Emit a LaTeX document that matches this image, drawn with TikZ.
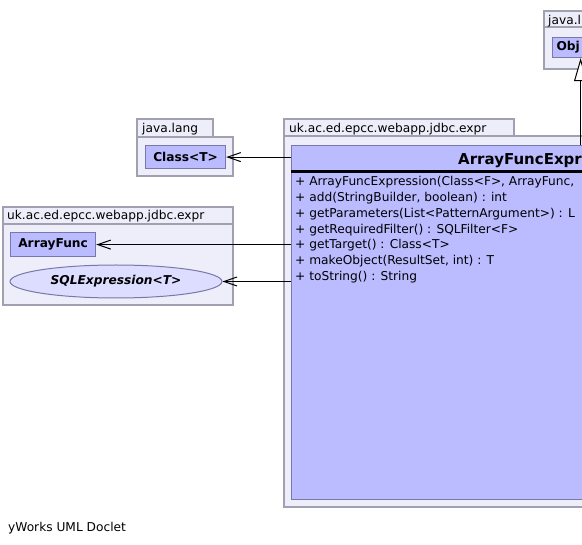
\documentclass[tikz,border=0pt]{standalone}
\usepackage{fontspec}
\setmainfont{DejaVu Sans}
\usepackage{tikz}
\usetikzlibrary{shapes.geometric, arrows.meta, positioning}
\definecolor{pkgfill}{RGB}{238,238,250}
\definecolor{pkgline}{RGB}{160,160,176}
\definecolor{clsfill}{RGB}{187,187,255}
\definecolor{clsline}{RGB}{120,120,170}
\definecolor{ifcfill}{RGB}{221,221,255}
\newcommand{\umlfont}{\fontsize{12.2pt}{14pt}\selectfont}
\tikzset{
  pkg/.style={draw=pkgline, fill=pkgfill, line width=1.2pt},
  cls/.style={rectangle, draw=clsline, fill=clsfill, line width=1.2pt,
    font=\umlfont\bfseries, inner sep=0pt, anchor=north west},
  ifc/.style={ellipse, draw=clsline, fill=ifcfill, line width=1pt,
    font=\umlfont\bfseries\itshape, inner sep=0pt},
  lbl/.style={anchor=base west, inner sep=0pt, font=\umlfont},
  dep/.style={-{Straight Barb[length=13pt,width=9pt]}, line width=1pt},
  gen/.style={-{Triangle[length=23pt,width=13pt,fill=white]}, line width=1pt}
}
\begin{document}
\begin{tikzpicture}[x=1pt, y=-1pt]
    \useasboundingbox (0,0) rectangle (582,545);
    \clip (0,0) rectangle (582,545);
    \fill[white] (0,0) rectangle (582,545);
    \draw[pkg] (544,11) rectangle (600,27);
    \draw[pkg] (544,27) rectangle (620,69);
    \node[lbl] (pkgtop) at (548,24.3) {java.l};
    \draw[pkg] (137,119) rectangle (213,137);
    \draw[pkg] (137,137) rectangle (233,176);
    \node[lbl] (pkglang) at (142,132.7) {java.lang};
    \draw[pkg] (3,207) rectangle (233,224);
    \draw[pkg] (3,224) rectangle (233,305);
    \node[lbl] (pkgleft) at (7,220) {uk.ac.ed.epcc.webapp.jdbc.expr};
    \draw[pkg] (284,119) rectangle (514,136);
    \draw[pkg] (284,136) rectangle (620,507);
    \node[lbl] (pkgmain) at (289,132.3) {uk.ac.ed.epcc.webapp.jdbc.expr};
    \node[cls, minimum width=56pt, minimum height=18pt, inner sep=4pt,
      text width=48pt, align=left] (obj) at (552,37) {Obj};
    \node[cls, minimum width=80pt, minimum height=23pt] (clst) at (145,145) {Class<T>};
    \node[cls, minimum width=85pt, minimum height=24pt] (afunc) at (10,232) {ArrayFunc};
    \node[ifc, minimum width=212pt, minimum height=33pt] (sqlx) at (116,281.5) {SQLExpression<T>};
    \node[cls, minimum width=320pt, minimum height=354pt] (afe) at (291,145) {};
    \node[lbl, font=\fontsize{15pt}{18pt}\selectfont\bfseries] (afename) at (458,164.3) {ArrayFuncExpr};
    \draw[line width=2.7pt] (afe.west |- 0,171.5) -- (afe.east |- 0,171.5);
    \node[lbl] (m1) at (295,186) {+ ArrayFuncExpression(Class<F>, ArrayFunc,};
    \node[lbl] (m2) at (295,201.7) {+ add(StringBuilder, boolean) : int};
    \node[lbl] (m3) at (295,217.5) {+ getParameters(List<PatternArgument>) : L};
    \node[lbl] (m4) at (295,233.2) {+ getRequiredFilter() : SQLFilter<F>};
    \node[lbl] (m5) at (295,248.9) {+ getTarget() : Class<T>};
    \node[lbl] (m6) at (295,264.7) {+ makeObject(ResultSet, int) : T};
    \node[lbl] (m7) at (295,280.4) {+ toString() : String};
    \draw[dep] (afe.west |- clst.east) -- (clst.east);
    \draw[dep] (afe.west |- afunc.east) -- (afunc.east);
    \draw[dep] (afe.west |- sqlx.east) -- (sqlx.east);
    \draw[gen] (afe.north -| obj.south) -- (obj.south);
    \node[lbl] (doclet) at (8,531.7) {yWorks UML Doclet};
  \end{tikzpicture}
\end{document}
